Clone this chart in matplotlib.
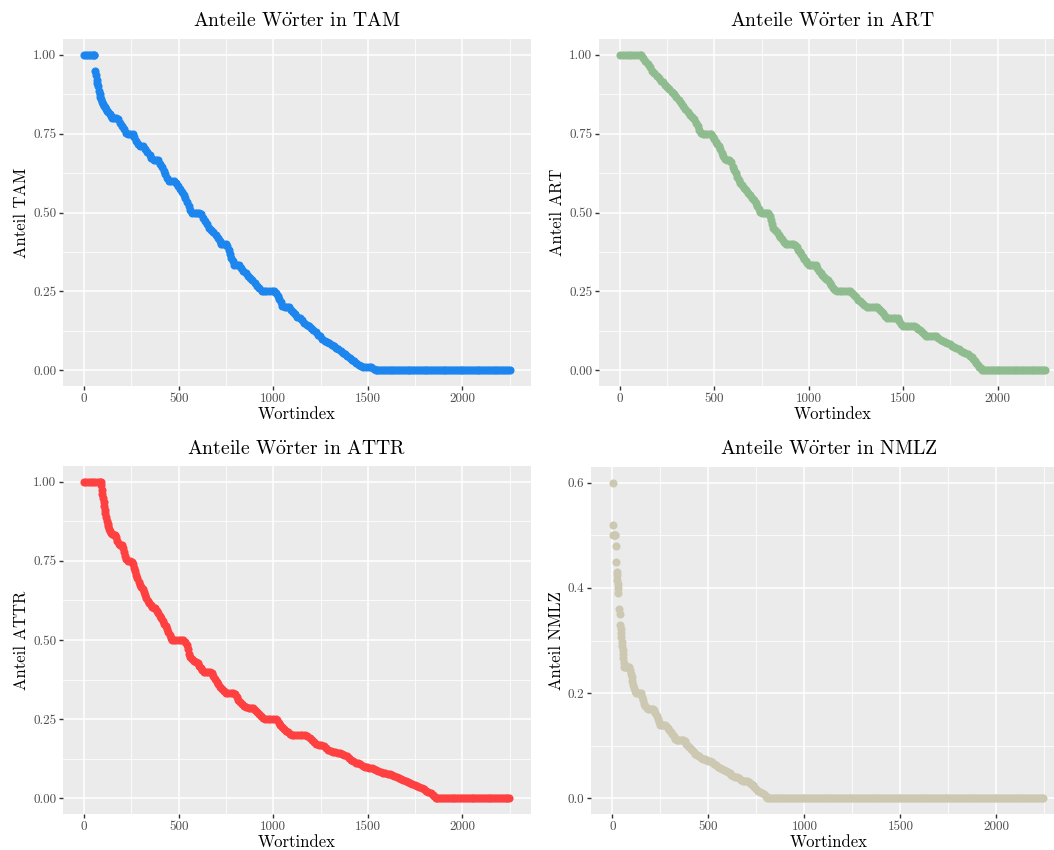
import numpy as np
import matplotlib as mpl
mpl.use('Agg')
import matplotlib.pyplot as plt
from matplotlib.ticker import FixedLocator

plt.rcParams['font.family'] = 'cmr10'
plt.rcParams['mathtext.fontset'] = 'cm'
plt.rcParams['axes.formatter.use_mathtext'] = True
plt.rcParams['axes.unicode_minus'] = False

# (word index, share) pairs; every panel ends in a flat run of zeros
tam_points = [
    (1, 1.0), (10, 1.0), (20, 1.0), (30, 1.0), (40, 1.0), (50, 1.0), (55, 1.0),
    (58, 0.95), (62, 0.935), (66, 0.92), (70, 0.91), (74, 0.90), (78, 0.885), (82, 0.875),
    (86, 0.865), (90, 0.86), (95, 0.85), (100, 0.845), (105, 0.838), (110, 0.833), (116, 0.828),
    (122, 0.823), (128, 0.818), (135, 0.812), (142, 0.806), (150, 0.80), (160, 0.80), (170, 0.80),
    (180, 0.795), (190, 0.785), (200, 0.775), (210, 0.765), (220, 0.752), (232, 0.75), (244, 0.75),
    (256, 0.748), (266, 0.738), (276, 0.727), (286, 0.718), (298, 0.71), (310, 0.71), (322, 0.70),
    (334, 0.692), (346, 0.683), (356, 0.672), (368, 0.667), (380, 0.667), (392, 0.667), (402, 0.655),
    (410, 0.643), (420, 0.632), (430, 0.622), (440, 0.61), (450, 0.60), (462, 0.60), (474, 0.60),
    (486, 0.595), (496, 0.585), (506, 0.575), (516, 0.566), (526, 0.557), (536, 0.545), (546, 0.532),
    (554, 0.52), (562, 0.508), (572, 0.50), (584, 0.50), (596, 0.50), (608, 0.50), (620, 0.495),
    (630, 0.483), (640, 0.472), (650, 0.462), (660, 0.452), (672, 0.444), (684, 0.437), (696, 0.43),
    (708, 0.42), (716, 0.41), (724, 0.40), (736, 0.40), (748, 0.40), (758, 0.393), (766, 0.38),
    (772, 0.368), (778, 0.356), (786, 0.345), (794, 0.335), (806, 0.333), (818, 0.333), (830, 0.325),
    (842, 0.316), (854, 0.307), (866, 0.299), (878, 0.292), (890, 0.285), (902, 0.277), (914, 0.268),
    (926, 0.26), (938, 0.252), (950, 0.25), (964, 0.25), (978, 0.25), (992, 0.25), (1006, 0.25),
    (1016, 0.245), (1024, 0.235), (1032, 0.225), (1040, 0.215), (1048, 0.205), (1060, 0.20),
    (1072, 0.20), (1084, 0.20), (1094, 0.192), (1104, 0.185), (1116, 0.177), (1128, 0.17),
    (1140, 0.165), (1152, 0.158), (1164, 0.15), (1176, 0.143), (1188, 0.14), (1200, 0.135),
    (1212, 0.128), (1224, 0.12), (1236, 0.113), (1248, 0.108), (1260, 0.10), (1272, 0.094),
    (1284, 0.089), (1296, 0.085), (1308, 0.08), (1320, 0.076), (1332, 0.072), (1344, 0.066),
    (1356, 0.06), (1368, 0.055), (1380, 0.05), (1392, 0.045), (1404, 0.04), (1416, 0.034),
    (1428, 0.028), (1440, 0.022), (1452, 0.018), (1464, 0.014), (1476, 0.01), (1490, 0.01),
    (1504, 0.01), (1518, 0.01), (1530, 0.005), (1542, 0.0),
]
tam_zero_from = 1550

art_points = [
    (1, 1.0), (15, 1.0), (30, 1.0), (45, 1.0), (60, 1.0), (75, 1.0), (90, 1.0), (105, 1.0), (112, 1.0),
    (122, 0.99), (134, 0.98), (146, 0.97), (158, 0.96), (170, 0.95), (182, 0.942), (194, 0.933),
    (206, 0.925), (218, 0.918), (228, 0.913), (238, 0.905), (250, 0.898), (262, 0.89), (274, 0.883),
    (286, 0.875), (298, 0.866), (310, 0.857), (322, 0.848), (334, 0.838), (346, 0.828), (358, 0.818),
    (370, 0.81), (382, 0.803), (394, 0.795), (404, 0.785), (412, 0.775), (420, 0.763), (428, 0.753),
    (438, 0.75), (450, 0.75), (462, 0.75), (474, 0.75), (484, 0.748), (492, 0.74), (500, 0.732),
    (508, 0.725), (516, 0.718), (524, 0.71), (532, 0.70), (540, 0.69), (548, 0.68), (556, 0.67),
    (566, 0.667), (578, 0.667), (588, 0.66), (596, 0.645), (604, 0.635), (612, 0.625), (620, 0.613),
    (628, 0.603), (638, 0.595), (648, 0.587), (658, 0.579), (668, 0.571), (678, 0.563), (688, 0.555),
    (698, 0.547), (708, 0.539), (718, 0.531), (728, 0.522), (736, 0.512), (742, 0.503), (750, 0.50),
    (762, 0.50), (774, 0.50), (786, 0.50), (794, 0.49), (800, 0.475), (806, 0.462), (812, 0.452),
    (820, 0.445), (830, 0.438), (840, 0.43), (850, 0.423), (860, 0.415), (870, 0.408), (880, 0.40),
    (892, 0.40), (904, 0.40), (916, 0.40), (928, 0.398), (936, 0.39), (944, 0.382), (952, 0.375),
    (960, 0.368), (968, 0.36), (976, 0.353), (984, 0.347), (992, 0.34), (1000, 0.333), (1012, 0.333),
    (1024, 0.333), (1036, 0.333), (1046, 0.325), (1054, 0.316), (1062, 0.308), (1070, 0.302),
    (1080, 0.296), (1090, 0.29), (1100, 0.285), (1110, 0.278), (1120, 0.27), (1130, 0.262),
    (1140, 0.254), (1150, 0.25), (1164, 0.25), (1178, 0.25), (1192, 0.25), (1206, 0.25), (1220, 0.25),
    (1230, 0.245), (1240, 0.238), (1250, 0.231), (1260, 0.224), (1270, 0.218), (1280, 0.212),
    (1292, 0.206), (1306, 0.20), (1320, 0.20), (1334, 0.20), (1348, 0.20), (1362, 0.20), (1374, 0.195),
    (1384, 0.188), (1394, 0.18), (1404, 0.172), (1416, 0.167), (1430, 0.167), (1444, 0.167),
    (1458, 0.167), (1470, 0.165), (1480, 0.157), (1490, 0.148), (1500, 0.141), (1514, 0.14),
    (1528, 0.14), (1542, 0.14), (1556, 0.14), (1568, 0.138), (1578, 0.132), (1588, 0.126),
    (1598, 0.12), (1608, 0.114), (1620, 0.11), (1634, 0.11), (1648, 0.11), (1662, 0.11),
    (1674, 0.107), (1686, 0.102), (1698, 0.097), (1710, 0.093), (1722, 0.089), (1734, 0.086),
    (1746, 0.082), (1758, 0.078), (1770, 0.074), (1782, 0.07), (1794, 0.066), (1806, 0.062),
    (1818, 0.058), (1830, 0.054), (1842, 0.05), (1852, 0.046), (1862, 0.041), (1872, 0.035),
    (1880, 0.029), (1888, 0.023), (1896, 0.017), (1904, 0.011), (1912, 0.006), (1920, 0.002),
    (1930, 0.0),
]
art_zero_from = 1940

attr_points = [
    (1, 1.0), (12, 1.0), (24, 1.0), (36, 1.0), (48, 1.0), (60, 1.0), (72, 1.0), (84, 1.0), (88, 1.0),
    (91, 0.99), (94, 0.975), (97, 0.962), (100, 0.95), (103, 0.937), (106, 0.923), (109, 0.91),
    (112, 0.90), (116, 0.888), (120, 0.877), (124, 0.868), (128, 0.86), (133, 0.85), (138, 0.843),
    (144, 0.838), (150, 0.835), (156, 0.833), (164, 0.833), (170, 0.825), (176, 0.812), (182, 0.802),
    (190, 0.80), (198, 0.80), (206, 0.79), (212, 0.778), (218, 0.766), (224, 0.755), (232, 0.75),
    (242, 0.75), (252, 0.748), (258, 0.74), (264, 0.728), (270, 0.717), (276, 0.706), (282, 0.695),
    (288, 0.684), (294, 0.675), (302, 0.667), (310, 0.66), (316, 0.651), (322, 0.641), (328, 0.632),
    (336, 0.624), (344, 0.618), (352, 0.611), (360, 0.605), (368, 0.60), (376, 0.60), (384, 0.592),
    (392, 0.584), (400, 0.576), (408, 0.568), (416, 0.56), (424, 0.552), (432, 0.544), (440, 0.535),
    (446, 0.525), (452, 0.515), (458, 0.505), (464, 0.50), (476, 0.50), (488, 0.50), (500, 0.50),
    (512, 0.50), (524, 0.50), (534, 0.495), (542, 0.483), (548, 0.47), (554, 0.457), (562, 0.446),
    (572, 0.44), (582, 0.435), (592, 0.43), (600, 0.426), (608, 0.418), (616, 0.41), (624, 0.405),
    (632, 0.40), (644, 0.40), (656, 0.40), (668, 0.40), (676, 0.395), (684, 0.385), (692, 0.376),
    (700, 0.368), (710, 0.36), (720, 0.352), (730, 0.345), (740, 0.339), (750, 0.334), (762, 0.333),
    (774, 0.333), (786, 0.333), (796, 0.33), (806, 0.32), (816, 0.311), (826, 0.303), (836, 0.297),
    (846, 0.292), (858, 0.287), (870, 0.286), (882, 0.286), (894, 0.284), (904, 0.278), (914, 0.272),
    (924, 0.266), (934, 0.26), (944, 0.254), (956, 0.25), (970, 0.25), (984, 0.25), (998, 0.25),
    (1012, 0.25), (1022, 0.246), (1030, 0.238), (1038, 0.23), (1046, 0.224), (1056, 0.218),
    (1066, 0.213), (1076, 0.208), (1086, 0.203), (1098, 0.20), (1112, 0.20), (1126, 0.20),
    (1140, 0.20), (1154, 0.20), (1168, 0.20), (1180, 0.197), (1192, 0.19), (1204, 0.184),
    (1216, 0.178), (1228, 0.172), (1240, 0.167), (1254, 0.167), (1268, 0.165), (1280, 0.158),
    (1292, 0.153), (1304, 0.15), (1316, 0.147), (1328, 0.145), (1340, 0.143), (1352, 0.142),
    (1364, 0.14), (1376, 0.138), (1388, 0.133), (1400, 0.127), (1412, 0.121), (1424, 0.116),
    (1436, 0.112), (1448, 0.11), (1460, 0.107), (1472, 0.103), (1484, 0.10), (1496, 0.098),
    (1508, 0.096), (1520, 0.094), (1532, 0.091), (1544, 0.088), (1556, 0.086), (1568, 0.083),
    (1580, 0.081), (1592, 0.079), (1604, 0.077), (1616, 0.075), (1628, 0.072), (1640, 0.07),
    (1652, 0.067), (1664, 0.064), (1676, 0.061), (1688, 0.058), (1700, 0.055), (1712, 0.052),
    (1724, 0.049), (1736, 0.045), (1748, 0.042), (1760, 0.039), (1772, 0.035), (1784, 0.032),
    (1796, 0.028), (1808, 0.024), (1820, 0.02), (1832, 0.015), (1842, 0.011), (1852, 0.006),
    (1860, 0.002), (1868, 0.0),
]
attr_zero_from = 1878

nmlz_points = [
    (1, 0.60), (3, 0.52), (5, 0.50), (8, 0.50), (11, 0.50), (14, 0.50), (17, 0.48), (19, 0.45),
    (22, 0.43), (24, 0.425), (25, 0.416), (27, 0.407), (29, 0.40), (31, 0.39), (36, 0.36), (38, 0.35),
    (41, 0.33), (43, 0.322), (45, 0.314), (47, 0.306), (49, 0.298), (51, 0.29), (53, 0.282),
    (55, 0.274), (57, 0.266), (60, 0.258), (63, 0.25), (68, 0.25), (74, 0.25), (80, 0.25), (86, 0.25),
    (92, 0.244), (96, 0.237), (100, 0.23), (104, 0.223), (108, 0.216), (113, 0.209), (118, 0.203),
    (124, 0.20), (132, 0.20), (140, 0.20), (148, 0.20), (154, 0.193), (160, 0.186), (166, 0.18),
    (172, 0.175), (178, 0.171), (186, 0.17), (194, 0.17), (202, 0.17), (210, 0.17), (218, 0.168),
    (224, 0.162), (230, 0.156), (236, 0.15), (242, 0.145), (248, 0.14), (256, 0.14), (264, 0.14),
    (272, 0.14), (280, 0.138), (288, 0.133), (296, 0.129), (304, 0.126), (312, 0.123), (320, 0.118),
    (328, 0.113), (336, 0.11), (344, 0.11), (352, 0.11), (360, 0.11), (368, 0.11), (376, 0.108),
    (384, 0.104), (392, 0.10), (400, 0.097), (408, 0.094), (416, 0.091), (424, 0.088), (432, 0.085),
    (440, 0.082), (450, 0.08), (460, 0.077), (470, 0.075), (480, 0.074), (490, 0.073), (500, 0.071),
    (510, 0.07), (520, 0.068), (530, 0.065), (540, 0.063), (550, 0.06), (560, 0.058), (570, 0.056),
    (580, 0.054), (590, 0.052), (600, 0.05), (610, 0.048), (620, 0.045), (630, 0.042), (640, 0.04),
    (650, 0.04), (660, 0.038), (670, 0.035), (680, 0.033), (690, 0.032), (700, 0.032), (710, 0.03),
    (720, 0.028), (730, 0.025), (740, 0.021), (750, 0.017), (760, 0.013), (770, 0.011), (780, 0.01),
    (790, 0.008), (798, 0.004), (805, 0.0),
]
nmlz_zero_from = 815

n_words = 2250
x_breaks = [0, 500, 1000, 1500, 2000]
y_breaks_share = [0.0, 0.25, 0.5, 0.75, 1.0]
y_labels_share = ["0.00", "0.25", "0.50", "0.75", "1.00"]
y_breaks_nmlz = [0.0, 0.2, 0.4, 0.6]
y_labels_nmlz = ["0.0", "0.2", "0.4", "0.6"]

W, H = 1054, 850
fig = plt.figure(figsize=(W / 100, H / 100), dpi=100)


def panel(rect, points, zero_from, color, tag, yb, ylab, ymax):
    l, t, r, b = rect
    ax = fig.add_axes([l / W, 1 - b / H, (r - l) / W, (b - t) / H])
    ax.set_facecolor('#EBEBEB')
    for s in ax.spines.values():
        s.set_visible(False)

    tail = list(range(zero_from, n_words + 1, 10))
    xs = [p[0] for p in points] + tail
    ys = [p[1] for p in points] + [0.0] * len(tail)
    ax.scatter(xs, ys, s=34, color=color, linewidths=0, zorder=3)

    # ggplot default expansion of 5 %
    span = n_words - 1
    ax.set_xlim(1 - 0.05 * span, n_words + 0.05 * span)
    ax.set_ylim(-0.05 * ymax, 1.05 * ymax)

    ax.xaxis.set_major_locator(FixedLocator(x_breaks))
    ax.set_xticklabels([str(v) for v in x_breaks])
    ax.xaxis.set_minor_locator(FixedLocator([250, 750, 1250, 1750, 2250]))
    ax.yaxis.set_major_locator(FixedLocator(yb))
    ax.set_yticklabels(ylab)
    ax.yaxis.set_minor_locator(FixedLocator([(yb[i] + yb[i + 1]) / 2 for i in range(len(yb) - 1)]))

    ax.grid(which='major', color='white', lw=1.1, zorder=0)
    ax.grid(which='minor', color='white', lw=0.55, zorder=0)
    ax.set_axisbelow(True)
    ax.tick_params(which='major', length=2.75, width=1.0, color='#333333',
                   labelsize=9.4, labelcolor='#4D4D4D', pad=2.2)
    ax.tick_params(which='minor', length=0)

    ax.set_title('Anteile W$\\ddot{\\mathrm{o}}$rter in ' + tag, fontsize=14.2, pad=9)
    ax.set_xlabel('Wortindex', fontsize=12, labelpad=1.5)
    ax.set_ylabel('Anteil ' + tag, fontsize=12, labelpad=2.75)
    return ax


panel((63, 39, 531, 386), tam_points, tam_zero_from, '#1C86EE', 'TAM',
      y_breaks_share, y_labels_share, 1.0)
panel((599, 39, 1066, 386), art_points, art_zero_from, '#8FBC8F', 'ART',
      y_breaks_share, y_labels_share, 1.0)
panel((63, 466, 531, 814), attr_points, attr_zero_from, '#FF4040', 'ATTR',
      y_breaks_share, y_labels_share, 1.0)
panel((591, 467, 1066, 814), nmlz_points, nmlz_zero_from, '#CDC8B1', 'NMLZ',
      y_breaks_nmlz, y_labels_nmlz, 0.6)

fig.savefig('out.png', dpi=100)
